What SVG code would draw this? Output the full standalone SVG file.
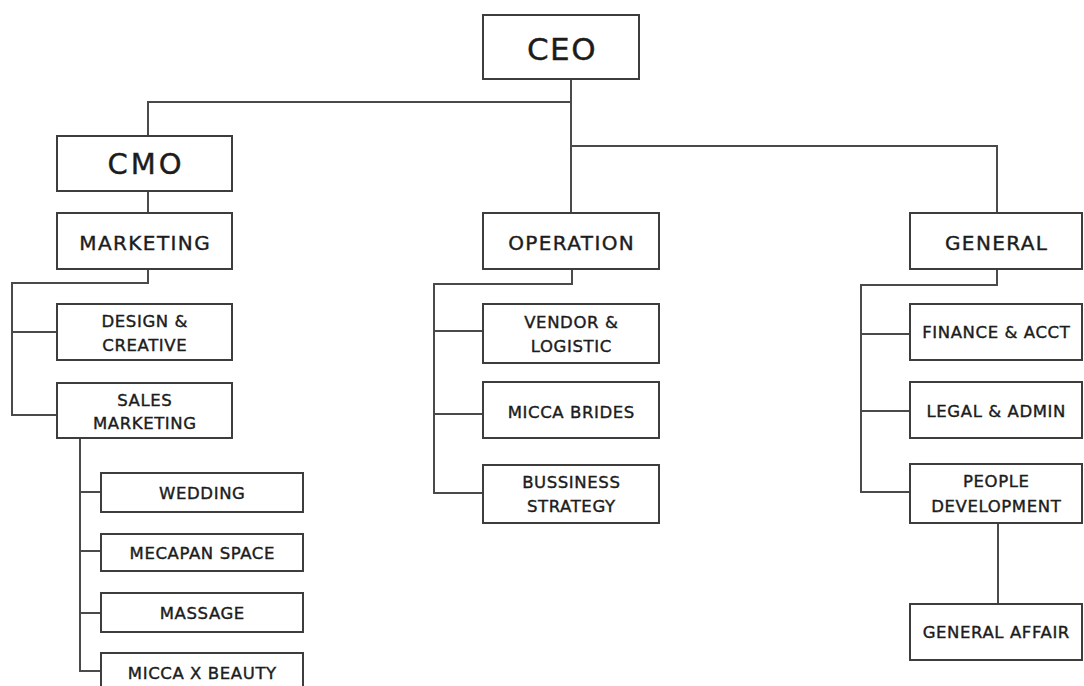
<svg xmlns="http://www.w3.org/2000/svg" width="1084" height="686" viewBox="0 0 1084 686">
<style>
.box{fill:#fff;stroke:#3d3d3d;stroke-width:2}
.ln{fill:none;stroke:#4a4a4a;stroke-width:2}
text{font-family:"DejaVu Sans","Liberation Sans",sans-serif;fill:#1c1c1c;stroke:#1c1c1c;stroke-width:0.4;text-anchor:middle}
.xl{font-size:31px;letter-spacing:1.5px}
.l{font-size:29px;letter-spacing:3px}
.m{font-size:20px;letter-spacing:1.4px}
.s{font-size:16.5px;letter-spacing:0.6px}
</style>
<rect width="1084" height="686" fill="#fff"/>
<g id="connectors">
<path class="ln" d="M571 79 V213"/>
<path class="ln" d="M571 102 H148 V136"/>
<path class="ln" d="M571 146 H997 V213"/>
<path class="ln" d="M148 191 V213"/>
<path class="ln" d="M148 269 V283 H12 V415 H57"/>
<path class="ln" d="M12 332 H57"/>
<path class="ln" d="M80 438 V671 H101"/>
<path class="ln" d="M80 492 H101 M80 551 H101 M80 613 H101"/>
<path class="ln" d="M572 269 V284 H434 V493 H483"/>
<path class="ln" d="M434 331 H483 M434 414 H483"/>
<path class="ln" d="M997 269 V285 H861 V492 H910"/>
<path class="ln" d="M861 334 H910 M861 411 H910"/>
<path class="ln" d="M998 523 V604"/>
</g>
<g id="ceo"><rect class="box" x="483" y="15" width="156" height="64"/><text class="xl" x="562" y="60">CEO</text></g>
<g id="cmo"><rect class="box" x="57" y="136" width="175" height="55"/><text class="l" x="146" y="174">CMO</text></g>
<g id="marketing"><rect class="box" x="57" y="213" width="175" height="56"/><text class="m" x="145.2" y="250">MARKETING</text></g>
<g id="design"><rect class="box" x="57" y="304" width="175" height="56"/><text class="s" x="144.8" y="327">DESIGN &amp;</text><text class="s" x="144.8" y="351">CREATIVE</text></g>
<g id="sales"><rect class="box" x="57" y="383" width="175" height="55"/><text class="s" x="144.8" y="406">SALES</text><text class="s" x="144.8" y="429">MARKETING</text></g>
<g id="wedding"><rect class="box" x="101" y="473" width="202" height="39"/><text class="s" x="202.3" y="499">WEDDING</text></g>
<g id="mecapan"><rect class="box" x="101" y="534" width="202" height="37"/><text class="s" x="202.3" y="559">MECAPAN SPACE</text></g>
<g id="massage"><rect class="box" x="101" y="593" width="202" height="39"/><text class="s" x="202.3" y="619">MASSAGE</text></g>
<g id="micca-beauty"><rect class="box" x="101" y="653" width="202" height="45"/><text class="s" x="202.3" y="679">MICCA X BEAUTY</text></g>
<g id="operation"><rect class="box" x="483" y="213" width="176" height="56"/><text class="m" x="571.7" y="250">OPERATION</text></g>
<g id="vendor"><rect class="box" x="483" y="304" width="176" height="59"/><text class="s" x="571.3" y="328">VENDOR &amp;</text><text class="s" x="571.3" y="352">LOGISTIC</text></g>
<g id="brides"><rect class="box" x="483" y="382" width="176" height="56"/><text class="s" x="571.3" y="418">MICCA BRIDES</text></g>
<g id="strategy"><rect class="box" x="483" y="465" width="176" height="58"/><text class="s" x="571.3" y="488">BUSSINESS</text><text class="s" x="571.3" y="512">STRATEGY</text></g>
<g id="general"><rect class="box" x="910" y="213" width="172" height="56"/><text class="m" x="996.7" y="250">GENERAL</text></g>
<g id="finance"><rect class="box" x="910" y="304" width="172" height="56"/><text class="s" x="996.3" y="338">FINANCE &amp; ACCT</text></g>
<g id="legal"><rect class="box" x="910" y="382" width="172" height="56"/><text class="s" x="996.3" y="417">LEGAL &amp; ADMIN</text></g>
<g id="people"><rect class="box" x="910" y="464" width="172" height="59"/><text class="s" x="996.3" y="487">PEOPLE</text><text class="s" x="996.3" y="512">DEVELOPMENT</text></g>
<g id="general-affair"><rect class="box" x="910" y="604" width="172" height="56"/><text class="s" x="996.3" y="638">GENERAL AFFAIR</text></g>
</svg>
